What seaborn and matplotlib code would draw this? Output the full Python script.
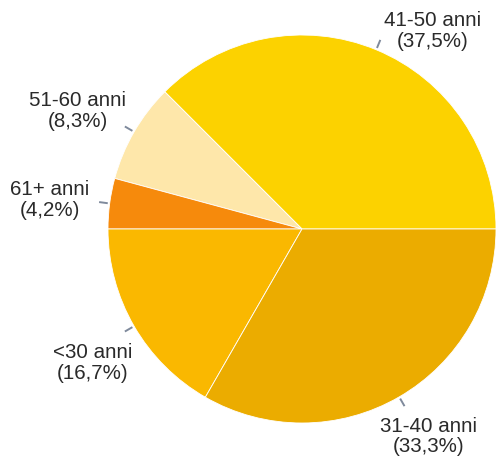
import numpy as np
import matplotlib.pyplot as plt
import seaborn as sns

# data
labels = ["41-50 anni", "51-60 anni", "61+ anni", "<30 anni", "31-40 anni"]
shares = [37.5, 8.3, 4.2, 16.7, 33.3]
pct_text = ["(37,5%)", "(8,3%)", "(4,2%)", "(16,7%)", "(33,3%)"]
slice_colors = ["#FCD200", "#FEE7AA", "#F68A0C", "#FAB800", "#EBAC00"]

# label placement (data units, pie radius = 1)
label_pos = [(0.675, 1.02), (-1.155, 0.61), (-1.30, 0.15), (-1.08, -0.69), (0.65, -1.07)]

sns.set_theme(style="white")
plt.rcParams['font.family'] = ['Liberation Sans', 'DejaVu Sans']

fig = plt.figure(figsize=(4.97, 4.57), dpi=100)
cx, cy, r = 302, 229, 194
ax = fig.add_axes([(cx - r) / 497, (457 - cy - r) / 457, 2 * r / 497, 2 * r / 457])

palette = sns.color_palette(slice_colors)
wedges, _ = ax.pie(shares, colors=palette, startangle=0, counterclock=True,
                   radius=1, wedgeprops=dict(edgecolor="white", linewidth=0.6))

for w, name, pct, (tx, ty) in zip(wedges, labels, pct_text, label_pos):
    mid = np.deg2rad((w.theta1 + w.theta2) / 2)
    ax.plot([1.01 * np.cos(mid), 1.055 * np.cos(mid)],
            [1.01 * np.sin(mid), 1.055 * np.sin(mid)],
            color="#7F8A9C", lw=1.4, clip_on=False, solid_capstyle="butt")
    ax.text(tx, ty, f"{name}\n{pct}", ha="center", va="center",
            multialignment="center", fontsize=14.8, color="#2a2a2a",
            linespacing=1.12, clip_on=False)

ax.set_xlim(-1, 1)
ax.set_ylim(-1, 1)
ax.set_aspect("equal")
ax.axis("off")

fig.savefig("out.png", dpi=100)
